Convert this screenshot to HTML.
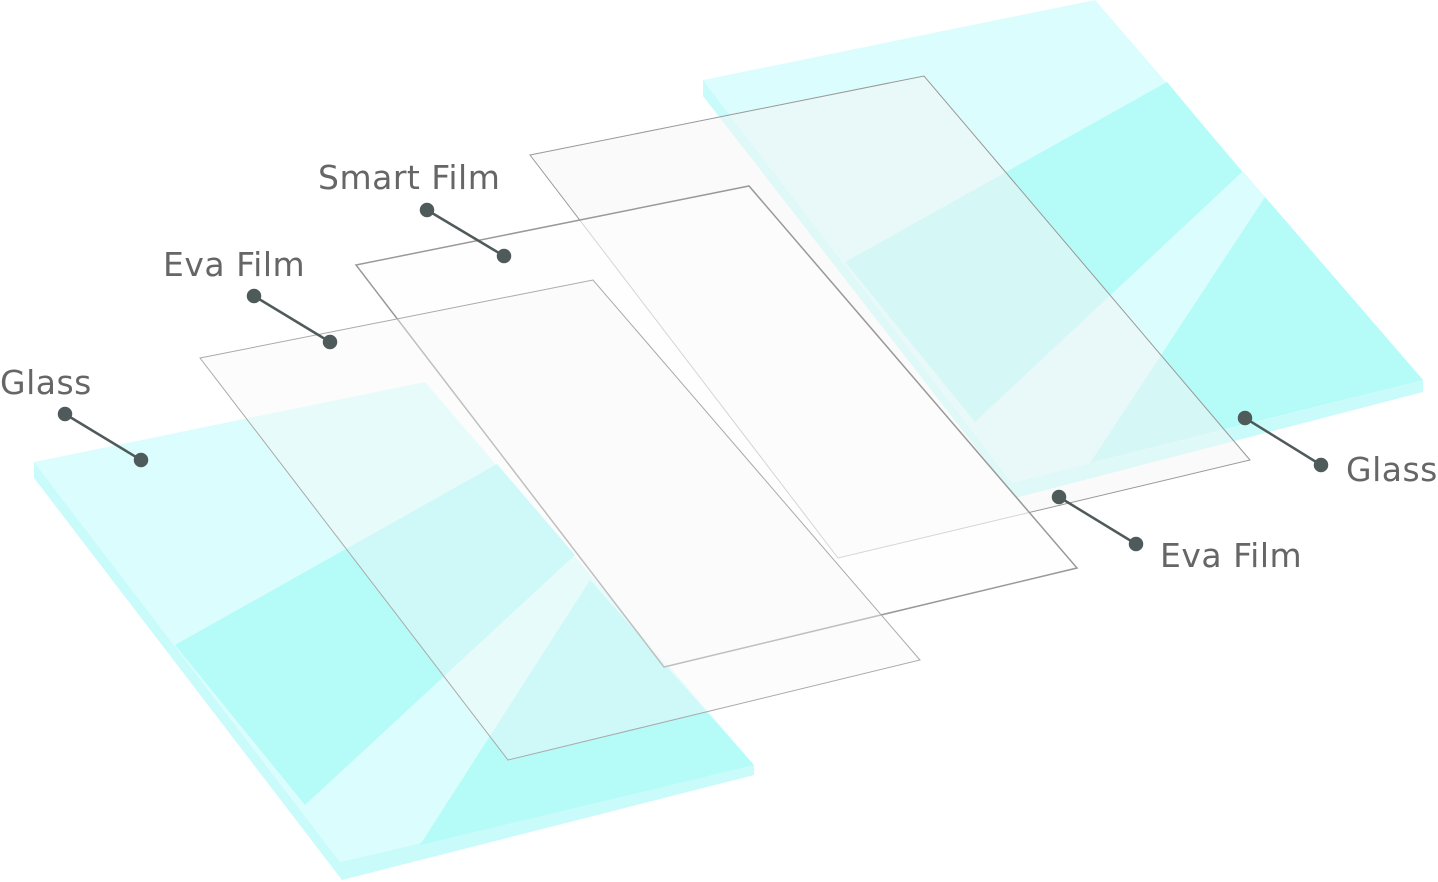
<!DOCTYPE html>
<html><head><meta charset="utf-8"><style>
html,body{margin:0;padding:0;background:#fff;}
svg{display:block}
text{font-family:"DejaVu Sans","Liberation Sans",sans-serif;fill:#666;font-size:33px;letter-spacing:0.5px}
</style></head><body>
<svg width="1438" height="882" viewBox="0 0 1438 882" xmlns="http://www.w3.org/2000/svg">
<!-- Right glass -->
<polygon points="703,80 703,96 1015,498 1423,392 1423,380 1012,483" fill="#c8fbfa"/>
<polygon points="703,80 1095,0 1423,380 1012,483" fill="#dcfdfd"/>
<polygon points="845,262 1167,82 1242,172 975,422" fill="#b5fbf8"/>
<polygon points="1265,197 1423,380 1090,463" fill="#b5fbf8"/>
<!-- Left glass -->
<polygon points="34,462 34,478 342,880 754,775 754,765 340,862" fill="#c8fbfa"/>
<polygon points="34,462 425,382 754,765 340,862" fill="#dcfdfd"/>
<polygon points="175,645 497,464 575,555 305,805" fill="#b5fbf8"/>
<polygon points="590,580 754,765 420,845" fill="#b5fbf8"/>
<!-- Right eva film -->
<polygon points="530,155 924,76 1250,460 838,558" fill="rgba(246,246,246,0.5)" stroke="#999" stroke-width="1"/>
<!-- Smart film -->
<polygon points="356,265 749,186 1077,568 664,667" fill="rgba(253,253,253,0.6)" stroke="#999" stroke-width="1.5"/>
<!-- Left eva film -->
<polygon points="200,358 593,280 920,660 508,760" fill="rgba(248,248,248,0.4)" stroke="#aaa" stroke-width="1"/>
<!-- Leaders -->
<g stroke="#4f5a5a" stroke-width="2.5" fill="#4f5a5a">
<line x1="427" y1="210" x2="504" y2="256"/><circle cx="427" cy="210" r="6"/><circle cx="504" cy="256" r="6"/>
<line x1="254" y1="296" x2="330" y2="342"/><circle cx="254" cy="296" r="6"/><circle cx="330" cy="342" r="6"/>
<line x1="65" y1="414" x2="141" y2="460"/><circle cx="65" cy="414" r="6"/><circle cx="141" cy="460" r="6"/>
<line x1="1245" y1="418" x2="1321" y2="465"/><circle cx="1245" cy="418" r="6"/><circle cx="1321" cy="465" r="6"/>
<line x1="1059" y1="497" x2="1136" y2="544"/><circle cx="1059" cy="497" r="6"/><circle cx="1136" cy="544" r="6"/>
</g>
<text x="318" y="189">Smart Film</text>
<text x="163" y="276">Eva Film</text>
<text x="0" y="394">Glass</text>
<text x="1346" y="481">Glass</text>
<text x="1160" y="567">Eva Film</text>
</svg>
</body></html>
